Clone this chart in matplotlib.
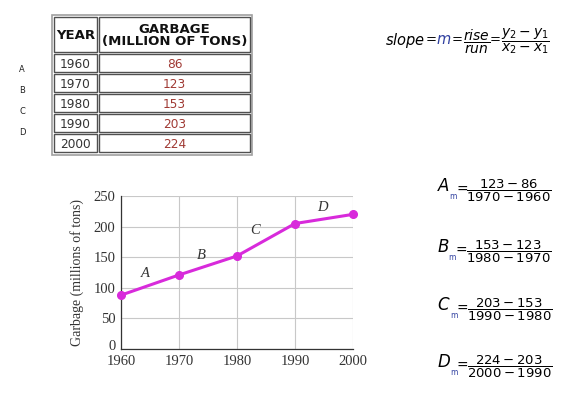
import matplotlib
matplotlib.use('Agg')
import matplotlib.pyplot as plt
import matplotlib.transforms as mtrans
from matplotlib.patches import Rectangle

years = [1960, 1970, 1980, 1990, 2000]
garbage = [86, 123, 153, 203, 224]          # table values
plotted = [88, 121, 152, 205, 220]          # as drawn on the chart
seg_labels = ['A', 'B', 'C', 'D']
seg_pos = [(1964.2, 124), (1973.8, 152), (1983.1, 193), (1994.7, 232)]
yticks = [0, 50, 100, 150, 200, 250]

W, H = 571, 398
fig = plt.figure(figsize=(W / 100, H / 100), dpi=100)
fig.patch.set_facecolor('white')

# full-figure overlay in pixel coords
ov = fig.add_axes([0, 0, 1, 1])
ov.set_xlim(0, W)
ov.set_ylim(H, 0)
ov.axis('off')

# ---- table ----
ov.add_patch(Rectangle((52, 15), 200, 140, fill=False, ec='#a0a0a0', lw=1.2))
col_x = [54, 99]
col_w = [43, 151]
row_y = [17, 54, 74, 94, 114, 134]
row_h = [35, 18, 18, 18, 18, 18]
for r in range(6):
    for c in range(2):
        ov.add_patch(Rectangle((col_x[c], row_y[r]), col_w[c], row_h[r],
                               fill=False, ec='#505050', lw=1.0))
ov.text(col_x[0] + col_w[0] / 2, row_y[0] + row_h[0] / 2 + 1, 'YEAR',
        ha='center', va='center', fontsize=9.5, fontweight='bold', color='#111111')
ov.text(col_x[1] + col_w[1] / 2, row_y[0] + row_h[0] / 2 + 1, 'GARBAGE\n(MILLION OF TONS)',
        ha='center', va='center', fontsize=9.5, fontweight='bold', color='#111111',
        linespacing=0.95)
for i in range(5):
    yc = row_y[i + 1] + row_h[i + 1] / 2 + 1
    ov.text(col_x[0] + col_w[0] / 2, yc, str(years[i]), ha='center', va='center',
            fontsize=8.7, color='#333333')
    ov.text(col_x[1] + col_w[1] / 2, yc, str(garbage[i]), ha='center', va='center',
            fontsize=8.7, color='#a03a34')

for i, lab in enumerate(seg_labels):
    ov.text(22, 69 + i * 21.3, lab, ha='center', va='center', fontsize=6, color='#222222')

# ---- equations ----


def chain(prev, s, color='black', size=10, dx=0, dy=0, xy=(1, 0.5)):
    return ov.annotate(s, xy=xy, xycoords=prev, xytext=(dx, dy), textcoords='offset points',
                       ha='left', va='center', fontsize=size, color=color)


t = ov.text(385, 40, r'$slope$', ha='left', va='center', fontsize=10.5)
t = chain(t, '=', size=9.5)
t = chain(t, r'$m$', color='#3040a0', size=10.5)
t = chain(t, '=', size=9.5)
t = chain(t, r'$\dfrac{rise}{run}$', size=10, dy=-1)
t = chain(t, '=', size=9.5, dy=1)
t = chain(t, r'$\dfrac{y_2-y_1}{x_2-x_1}$', size=10, dy=-1)

eqs = [('A', 186, '123-86', '1970-1960'),
       ('B', 247, '153-123', '1980-1970'),
       ('C', 305, '203-153', '1990-1980'),
       ('D', 362, '224-203', '2000-1990')]
for lab, yb, num, den in eqs:
    t = ov.text(437, yb, '$' + lab + '$', ha='left', va='center', fontsize=12)
    m = chain(t, 'm', color='#3040a0', size=5.5, dx=-0.5, dy=-5, xy=(1, 0.3))
    t = chain(m, '=', size=10, dx=-0.5, dy=5)
    chain(t, r'$\dfrac{' + num + '}{' + den + '}$', size=9.5, dx=-1, dy=-1)

# ---- chart ----
serif = 'Liberation Serif'
ax = fig.add_axes([121 / W, 1 - 349 / H, 232 / W, 153 / H])
ax.set_xlim(1960, 2000)
ax.set_ylim(0, 250)
ax.set_xticks(years)
ax.set_yticks(yticks)
ax.grid(True, color='#c8c8c8', lw=0.8)
ax.set_axisbelow(True)
for s in ['top', 'right']:
    ax.spines[s].set_visible(False)
for s in ['left', 'bottom']:
    ax.spines[s].set_color('#333333')
    ax.spines[s].set_linewidth(0.9)
ax.tick_params(length=0, pad=4, labelsize=10.5, colors='#333333')
for lb in ax.get_xticklabels() + ax.get_yticklabels():
    lb.set_fontfamily(serif)
# the zero label sits just above the 1960 label
zl = ax.get_yticklabels()[0]
zl.set_transform(zl.get_transform() + mtrans.ScaledTranslation(0, 3 / 72, fig.dpi_scale_trans))
ax.plot(years, plotted, color='#d82adb', lw=2.2, marker='o', ms=5.5, clip_on=False, zorder=3)
for lab, (x, y) in zip(seg_labels, seg_pos):
    ax.text(x, y, lab, fontsize=10.5, fontstyle='italic', family=serif, color='#333333',
            ha='center', va='center')
ax.set_ylabel('Garbage (millions of tons)', fontsize=10, family=serif, color='#333333',
              labelpad=7)

fig.savefig('out.png', dpi=100)
